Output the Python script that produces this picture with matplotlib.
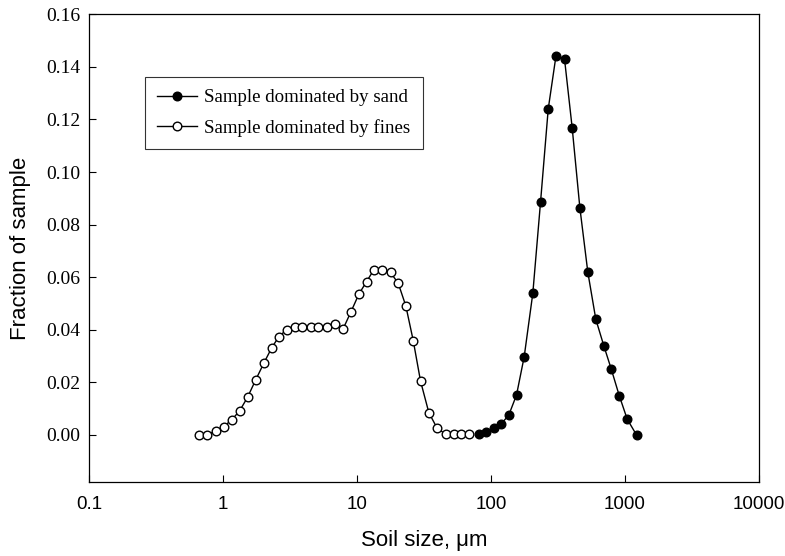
import matplotlib
matplotlib.use('Agg')
import matplotlib.pyplot as plt
from matplotlib.ticker import FixedLocator, FixedFormatter, NullLocator

# particle size (um) and fraction
fines_size = [0.660, 0.762, 0.879, 1.014, 1.157, 1.328, 1.523, 1.748, 2.016, 2.301,
              2.609, 2.978, 3.416, 3.900, 4.498, 5.133, 5.922, 6.795, 7.850, 9.022,
              10.31, 11.77, 13.35, 15.42, 17.78, 20.30, 23.13, 26.27, 29.78, 34.35,
              39.67, 46.00, 52.49, 59.93, 68.30]
fines_frac = [0.0, 0.0, 0.0016, 0.0032, 0.0057, 0.0091, 0.0143, 0.0208, 0.0273, 0.0330,
              0.0374, 0.0400, 0.0410, 0.0410, 0.0410, 0.0410, 0.0412, 0.0422, 0.0402, 0.0469,
              0.0535, 0.0583, 0.0628, 0.0628, 0.0618, 0.0577, 0.0491, 0.0359, 0.0205, 0.0085,
              0.0025, 0.0003, 0.0002, 0.0002, 0.0002]

sand_size = [81.1, 92.5, 104.9, 119.2, 135.8, 155.0, 176.9, 205.1, 234.1, 267.3,
             305.6, 353.6, 403.6, 460.1, 527.8, 605.4, 694.9, 788.9, 905.0, 1038.5, 1218.5]
sand_frac = [0.0004, 0.0013, 0.0025, 0.0042, 0.0076, 0.0152, 0.0298, 0.0539, 0.0885, 0.1240,
             0.1443, 0.1430, 0.1167, 0.0865, 0.0619, 0.0440, 0.0339, 0.0251, 0.0150, 0.0060, 0.0]

xticks = [0.1, 1, 10, 100, 1000, 10000]
xtick_labels = ['0.1', '1', '10', '100', '1000', '10000']
yticks = [0.00, 0.02, 0.04, 0.06, 0.08, 0.10, 0.12, 0.14, 0.16]

fig = plt.figure(figsize=(7.85, 5.56), dpi=100)
ax = fig.add_axes([0.1134, 0.1326, 0.8535, 0.8417])

ax.plot(sand_size, sand_frac, '-o', color='black', lw=1.0, ms=6.2,
        mfc='black', mec='black', mew=1.0, label='Sample dominated by sand', zorder=3)
ax.plot(fines_size, fines_frac, '-o', color='black', lw=1.0, ms=6.2,
        mfc='white', mec='black', mew=1.0, label='Sample dominated by fines', zorder=2)

ax.set_xscale('log')
ax.set_xlim(0.1, 10000)
ax.set_ylim(-0.018, 0.16)

ax.xaxis.set_major_locator(FixedLocator(xticks))
ax.xaxis.set_major_formatter(FixedFormatter(xtick_labels))
ax.xaxis.set_minor_locator(NullLocator())
ax.set_yticks(yticks)
ax.set_yticklabels(['%.2f' % v for v in yticks])

ax.tick_params(axis='x', direction='in', length=5, width=0.8, pad=10, labelsize=13.5)
ax.tick_params(axis='y', direction='in', length=5, width=0.8, pad=6, labelsize=14)
for lab in ax.get_xticklabels():
    lab.set_family('Liberation Sans')
for lab in ax.get_yticklabels():
    lab.set_family('Liberation Serif')

for sp in ax.spines.values():
    sp.set_linewidth(0.9)

ax.set_xlabel('Soil size, μm', family='Liberation Sans', fontsize=16, labelpad=12)
ax.set_ylabel('Fraction of sample', family='Liberation Sans', fontsize=16, labelpad=11)

leg = ax.legend(loc='upper left', bbox_to_anchor=(0.083, 0.866), frameon=True,
                fancybox=False, edgecolor='black', handlelength=2.1, handletextpad=0.4,
                labelspacing=0.65, borderpad=0.65, borderaxespad=0,
                prop={'family': 'Liberation Serif', 'size': 13.6})
leg.get_frame().set_linewidth(0.8)

plt.savefig('out.png', dpi=100)
